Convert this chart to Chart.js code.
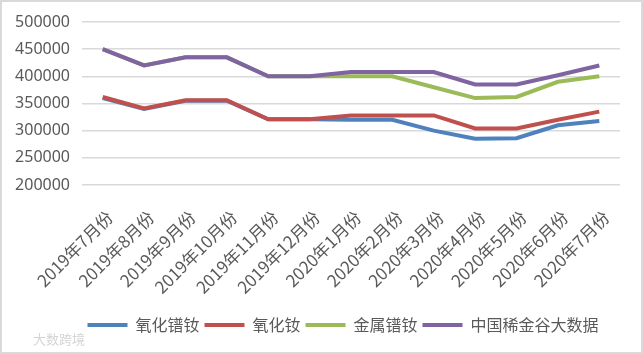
<!DOCTYPE html>
<html>
<head>
<meta charset="utf-8">
<script src="https://cdn.jsdelivr.net/npm/chart.js@4"></script>
<style>
html,body{margin:0;padding:0;background:#fff;}
#wrap{position:relative;width:643px;height:354px;}
#frame{position:absolute;left:0;top:0;width:643px;height:354px;box-sizing:border-box;border:2px solid #d9d9d9;pointer-events:none;}
#wm{position:absolute;left:33px;top:329px;font:13px "Noto Sans CJK SC";color:#d4d4d4;}
</style>
</head>
<body>
<div id="wrap">
<canvas id="c" width="643" height="354"></canvas>
<div id="frame"></div>
<div id="wm">大数跨境</div>
</div>
<script>
const categories = ["2019年7月份","2019年8月份","2019年9月份","2019年10月份","2019年11月份","2019年12月份","2020年1月份","2020年2月份","2020年3月份","2020年4月份","2020年5月份","2020年6月份","2020年7月份"];
const seriesNames = ["氧化镨钕","氧化钕","金属镨钕","中国稀金谷大数据"];
const prNdOxide = [360000,340000,355000,355000,321000,321000,320000,320000,300000,285000,286000,310000,318000];
const ndOxide   = [362000,341000,356000,356000,321000,321000,328000,328000,328000,304000,304000,320000,335000];
const prNdMetal = [450000,420000,435000,435000,400000,400000,400000,400000,380000,360000,362000,390000,400000];
const fourth    = [450000,420000,435000,435000,400000,400000,408000,408000,408000,385000,385000,402000,420000];
const yTicks = {min:200000, max:500000, step:50000};
const colors = ["#4F81BD","#C0504D","#9BBB59","#8064A2"];

const seriesData = [prNdOxide, ndOxide, prNdMetal, fourth];
const datasets = seriesData.map((d,i)=>({
  label: seriesNames[i],
  data: d,
  borderColor: colors[i],
  backgroundColor: colors[i],
  borderWidth: 4,
  pointRadius: 0,
  tension: 0,
  fill: false,
  order: seriesData.length - i
}));

const legendShift = {
  id: 'legendShift',
  afterLayout(chart){
    const lg = chart.legend;
    if (lg) { lg.left += 33; lg.right += 33; }
  }
};

new Chart(document.getElementById('c'), {
  type: 'line',
  data: {labels: categories, datasets},
  plugins: [legendShift],
  options: {
    responsive: false,
    animation: false,
    layout: {padding: {left: 0, right: 23, top: 22, bottom: 11}},
    plugins: {
      tooltip: {enabled: false},
      legend: {
        position: 'bottom',
        labels: {
          boxWidth: 40,
          boxHeight: 4,
          padding: 5,
          color: '#595959',
          font: {family: '"Noto Sans CJK SC"', size: 16},
          generateLabels(chart){
            return chart.data.datasets.map((ds,i)=>({
              text: ds.label, fillStyle: ds.borderColor, strokeStyle: ds.borderColor,
              lineWidth: 0, datasetIndex: i, hidden: false, fontColor: '#595959'
            }));
          }
        }
      }
    },
    scales: {
      x: {
        offset: true,
        grid: {display: false},
        border: {display: false},
        ticks: {
          color: '#595959',
          font: {family: '"Noto Sans CJK SC"', size: 17},
          minRotation: 45, maxRotation: 45, autoSkip: false, padding: 14,
          labelOffset: 7
        },
        afterFit(s){ s.height = 127; }
      },
      y: {
        min: yTicks.min, max: yTicks.max,
        grid: {color: '#d9d9d9', lineWidth: 1.5, drawTicks: false},
        border: {display: false},
        ticks: {
          stepSize: yTicks.step,
          color: '#595959',
          padding: 12,
          font: {family: '"Noto Sans"', size: 16},
          callback: v => String(v)
        },
        afterFit(s){ s.width = 82; }
      }
    }
  }
});
</script>
</body>
</html>
